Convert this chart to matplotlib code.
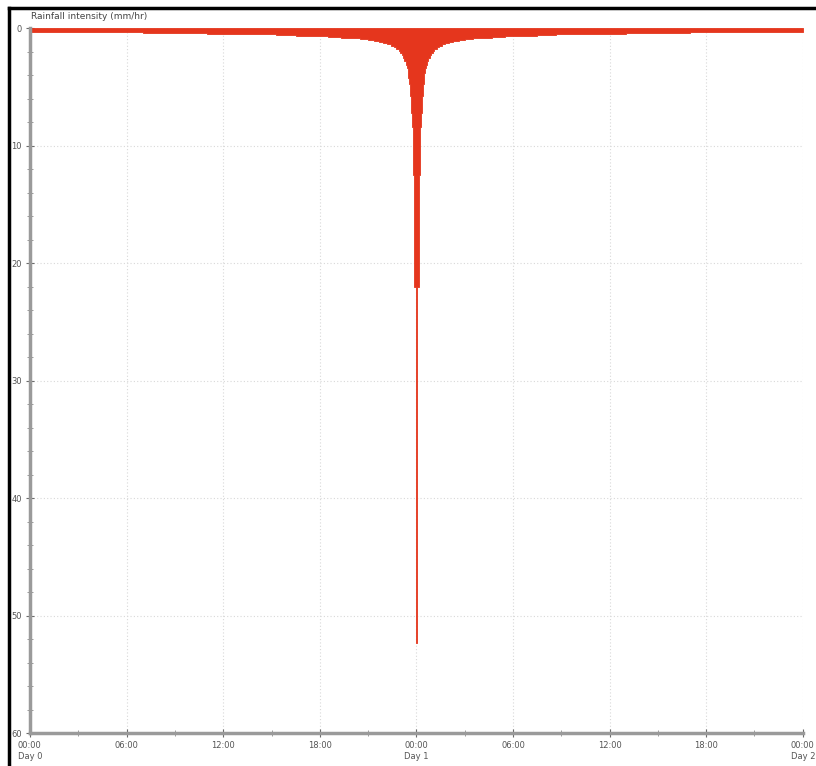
import matplotlib.pyplot as plt
from matplotlib.lines import Line2D
import numpy as np

# block edges (hours after the storm peak) and intensity (mm/hr) of each block,
# read from the picture; the storm is symmetric about 00:00 Day 1
block_end = [0.05, 0.15, 0.22, 0.30, 0.33, 0.36, 0.39, 0.42, 0.46, 0.50,
             0.55, 0.60, 0.67, 0.75, 0.82, 0.90, 1.00, 1.10, 1.25, 1.40,
             1.60, 1.80, 2.05, 2.30, 2.65, 3.0, 3.5, 4.0, 4.7, 5.5,
             6.5, 7.5, 8.7, 10.0, 11.5, 13.0, 15.0, 17.0, 20.0, 24.0]
intensity = [52.3, 22.0, 12.5, 8.4, 7.2, 6.5, 5.8, 5.2, 4.7, 4.2,
             3.8, 3.4, 3.1, 2.8, 2.55, 2.3, 2.1, 1.9, 1.75, 1.6,
             1.47, 1.35, 1.25, 1.15, 1.07, 1.0, 0.92, 0.85, 0.8, 0.75,
             0.68, 0.62, 0.57, 0.52, 0.48, 0.45, 0.41, 0.38, 0.34, 0.3]

peak_hour = 24.0
tick_hours = [0, 6, 12, 18, 24, 30, 36, 42, 48]
tick_labels = ["00:00\nDay 0", "06:00", "12:00", "18:00", "00:00\nDay 1",
               "06:00", "12:00", "18:00", "00:00\nDay 2"]
y_ticks = [0, 10, 20, 30, 40, 50, 60]

# build a step series across the 48 hours
left_edges = [peak_hour - e for e in reversed(block_end)]
right_edges = [peak_hour + e for e in block_end]
edges = left_edges + [peak_hour] + right_edges
vals = list(reversed(intensity)) + intensity
t = np.array(edges)
v = np.array(vals + [vals[-1]])

fig = plt.figure(figsize=(8.16, 7.66), dpi=100)
ax = fig.add_axes([0.0368, 0.043, 0.947, 0.920])

ax.fill_between(t, 0, v, step="post", color="#e5361d", lw=0.6, edgecolor="#e5361d")

ax.set_xlim(0, 48)
ax.set_ylim(60, 0)
ax.set_xticks(tick_hours)
ax.set_xticklabels(tick_labels)
ax.set_xticks(np.arange(3, 48, 6), minor=True)
ax.set_yticks(y_ticks)
ax.set_yticks(np.arange(0, 61, 2), minor=True)

ax.grid(True, which="major", color="#d8d8d8", ls=(0, (1, 2)), lw=0.8)
ax.set_axisbelow(True)
for s in ["top", "right"]:
    ax.spines[s].set_visible(False)
for s in ["left", "bottom"]:
    ax.spines[s].set_color("#9a9a9a")
    ax.spines[s].set_linewidth(2.5)

ax.tick_params(axis="both", which="major", direction="inout", length=6,
               color="#6a6a6a", labelsize=6.0, labelcolor="#555555", pad=3)
ax.tick_params(axis="both", which="minor", direction="inout", length=4,
               color="#8a8a8a")
for lab in ax.get_xticklabels():
    lab.set_ha("center")
    lab.set_multialignment("left")

fig.text(0.038, 0.978, "Rainfall intensity (mm/hr)", fontsize=6.5, color="#444444",
         ha="left", va="center")

# screenshot frame on the top and left
fig.add_artist(Line2D([0.011, 0.011], [0, 0.99], transform=fig.transFigure,
                      color="black", lw=2.5))
fig.add_artist(Line2D([0.011, 1.0], [0.99, 0.99], transform=fig.transFigure,
                      color="black", lw=2.5))

fig.savefig("out.png", dpi=100)
